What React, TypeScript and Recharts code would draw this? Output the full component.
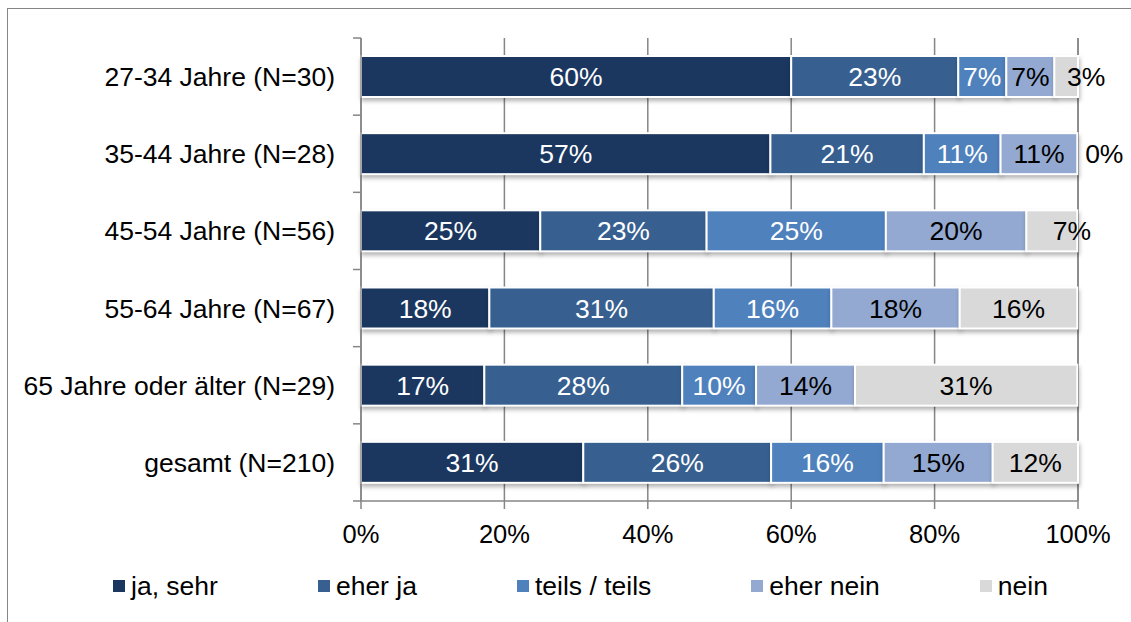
import React from 'react';
import { BarChart, Bar, XAxis, YAxis, CartesianGrid, Legend, LabelList } from 'recharts';

const categories = [
  '27-34 Jahre (N=30)',
  '35-44 Jahre (N=28)',
  '45-54 Jahre (N=56)',
  '55-64 Jahre (N=67)',
  '65 Jahre oder älter (N=29)',
  'gesamt (N=210)',
];
const jaSehr = [60.0, 57.1, 25.0, 17.9, 17.2, 31.0];
const eherJa = [23.3, 21.4, 23.2, 31.3, 27.6, 26.2];
const teils = [6.7, 10.7, 25.0, 16.4, 10.3, 15.7];
const eherNein = [6.7, 10.7, 19.6, 17.9, 13.8, 15.2];
const nein = [3.3, 0.0, 7.1, 16.4, 31.0, 11.9];
const xTicks = [0, 20, 40, 60, 80, 100];

const seriesNames = ['ja, sehr', 'eher ja', 'teils / teils', 'eher nein', 'nein'];
const seriesKeys = ['jaSehr', 'eherJa', 'teils', 'eherNein', 'nein'];
const seriesColors = ['#1b375f', '#376091', '#4f81bd', '#93a9d1', '#d9d9d9'];
const labelColors = ['#ffffff', '#ffffff', '#ffffff', '#000000', '#000000'];

const data = categories.map((name, i) => ({
  name,
  jaSehr: jaSehr[i],
  eherJa: eherJa[i],
  teils: teils[i],
  eherNein: eherNein[i],
  nein: nein[i],
}));

const FONT = '"Liberation Sans", Arial, sans-serif';
const TEXT_SIZE = 26.5;
const TICK_SIZE = 25.5;
const CHART_W = 1116;
const CHART_H = 612;
const MARGIN = { top: 29, right: 46, bottom: 20, left: 0 };
const Y_AXIS_W = 353;
const X_AXIS_H = 70;
const LEGEND_H = 30;
const PLOT_H = CHART_H - MARGIN.top - MARGIN.bottom - X_AXIS_H - LEGEND_H;
const BAND = PLOT_H / categories.length;
const AXIS_COLOR = '#868686';

const YTick = (props: any) => {
  const { y, payload, index } = props;
  const ax = Y_AXIS_W;
  return (
    <g>
      <line x1={ax - 8} x2={ax} y1={y - BAND / 2} y2={y - BAND / 2} stroke={AXIS_COLOR} strokeWidth={1.5} />
      {index === categories.length - 1 && (
        <line x1={ax - 8} x2={ax} y1={y + BAND / 2} y2={y + BAND / 2} stroke={AXIS_COLOR} strokeWidth={1.5} />
      )}
      <text x={ax - 26} y={y} dy="0.36em" textAnchor="end" fontSize={TEXT_SIZE} fontFamily={FONT} fill="#000">
        {payload.value}
      </text>
    </g>
  );
};

const makeLabel = (si: number) => (props: any) => {
  const vb = props.viewBox || {};
  const x = props.x ?? vb.x;
  const y = props.y ?? vb.y;
  const width = props.width ?? vb.width ?? 0;
  const height = props.height ?? vb.height ?? 0;
  const value = Number(props.value);
  let cx = x + width / 2;
  if (si === 4 && width < 60) {
    cx = value === 0 ? x + width + 27 : x + width / 2 + 20;
  }
  return (
    <text x={cx} y={y + height / 2} dy="0.36em" textAnchor="middle" fontSize={TEXT_SIZE} fontFamily={FONT} fill={labelColors[si]}>
      {`${Math.round(value)}%`}
    </text>
  );
};

const BarShape = (props: any) => {
  const { x, y, width, height, fill } = props;
  if (!width || width <= 0) return null;
  return (
    <rect
      x={x}
      y={y}
      width={width}
      height={height}
      fill={fill}
      stroke="#ffffff"
      strokeWidth={2}
      style={{ filter: 'drop-shadow(1px 3px 2px rgba(0,0,0,0.3))' }}
    />
  );
};

const LegendContent = () => (
  <div
    style={{
      height: LEGEND_H,
      display: 'flex',
      alignItems: 'center',
      paddingLeft: 105,
      gap: 100,
      fontFamily: FONT,
      fontSize: TEXT_SIZE,
      color: '#000',
      boxSizing: 'border-box',
    }}
  >
    {seriesNames.map((n, i) => (
      <div key={n} style={{ display: 'flex', alignItems: 'center', whiteSpace: 'nowrap' }}>
        <span style={{ display: 'inline-block', width: 12, height: 12, background: seriesColors[i], marginRight: 6 }} />
        <span>{n}</span>
      </div>
    ))}
  </div>
);

export default function App() {
  return (
    <div
      style={{
        position: 'absolute',
        left: 7,
        top: 8,
        width: 1124,
        height: 614,
        borderTop: `1px solid ${AXIS_COLOR}`,
        borderLeft: `1px solid ${AXIS_COLOR}`,
        boxSizing: 'border-box',
        background: '#fff',
        overflow: 'hidden',
      }}
    >
      <BarChart width={CHART_W} height={CHART_H} data={data} layout="vertical" margin={MARGIN}>
        <CartesianGrid horizontal={false} vertical stroke={AXIS_COLOR} strokeWidth={1.5} />
        <XAxis
          type="number"
          domain={[0, 100]}
          ticks={xTicks}
          interval={0}
          height={X_AXIS_H}
          tickFormatter={(v: number) => `${v}%`}
          axisLine={{ stroke: AXIS_COLOR, strokeWidth: 1.5 }}
          tickLine={{ stroke: AXIS_COLOR, strokeWidth: 1.5 }}
          tickSize={8}
          tickMargin={16}
          tick={{ fontSize: TICK_SIZE, fontFamily: FONT, fill: '#000' }}
        />
        <YAxis
          type="category"
          dataKey="name"
          width={Y_AXIS_W}
          interval={0}
          axisLine={{ stroke: AXIS_COLOR, strokeWidth: 1.5 }}
          tickLine={false}
          tick={<YTick />}
        />
        <Legend verticalAlign="bottom" height={LEGEND_H} content={<LegendContent />} wrapperStyle={{ margin: 0, padding: 0 }} />
        {seriesKeys.map((k, i) => (
          <Bar
            key={k}
            dataKey={k}
            name={seriesNames[i]}
            stackId="a"
            fill={seriesColors[i]}
            barSize={41}
            isAnimationActive={false}
            shape={<BarShape />}
          >
            <LabelList dataKey={k} content={makeLabel(i)} />
          </Bar>
        ))}
      </BarChart>
    </div>
  );
}
